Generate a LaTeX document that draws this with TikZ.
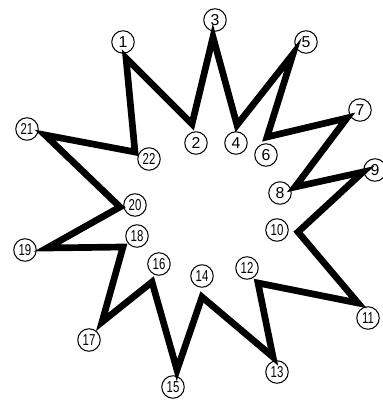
\documentclass[tikz,border=0pt]{standalone}
\usepackage{fontspec}
\setsansfont{Liberation Sans}
\usepackage{tikz}
\usetikzlibrary{positioning}

\newcommand{\narrow}[1]{\scalebox{0.72}[1]{#1}}

\begin{document}
\begin{tikzpicture}[
x=0.02cm, y=-0.02cm,
font=\sffamily\small,
num/.style={draw, circle, line width=0.6pt, inner sep=0pt, minimum size=0.45cm},
outline/.style={line width=3.8pt, line join=miter}
]
\useasboundingbox (0,0) rectangle (382,401);

% Corners of the star
\coordinate (v1) at (126,58);
\coordinate (v2) at (192,124);
\coordinate (v3) at (213,37);
\coordinate (v4) at (237,125);
\coordinate (v5) at (293,54);
\coordinate (v6) at (267,137);
\coordinate (v7) at (347,118);
\coordinate (v8) at (295,187);
\coordinate (v9) at (363,172);
\coordinate (v10) at (298,232);
\coordinate (v11) at (358,303);
\coordinate (v12) at (258,283);
\coordinate (v13) at (273,357);
\coordinate (v14) at (202,297);
\coordinate (v15) at (177,370);
\coordinate (v16) at (152,282);
\coordinate (v17) at (102,322);
\coordinate (v18) at (123,247);
\coordinate (v19) at (47,248);
\coordinate (v20) at (120,207);
\coordinate (v21) at (45,135);
\coordinate (v22) at (135,152);

% Outline
\draw[outline] (v1) -- (v2) -- (v3) -- (v4) -- (v5) -- (v6) -- (v7) -- (v8)
  -- (v9) -- (v10) -- (v11) -- (v12) -- (v13) -- (v14) -- (v15) -- (v16)
  -- (v17) -- (v18) -- (v19) -- (v20) -- (v21) -- (v22) -- cycle;

% Numbered circles
\node[num] (n1) at (123,42) {1};
\node[num] (n2) at (196,143) {2};
\node[num] (n3) at (215,20) {3};
\node[num] (n4) at (236,143) {4};
\node[num] (n5) at (306,42) {5};
\node[num] (n6) at (266,155) {6};
\node[num] (n7) at (360,110) {7};
\node[num] (n8) at (280,193) {8};
\node[num] (n9) at (375,170) {9};
\node[num] (n10) at (277,230) {\narrow{10}};
\node[num] (n11) at (368,318) {\narrow{11}};
\node[num] (n12) at (247,268) {\narrow{12}};
\node[num] (n13) at (277,372) {\narrow{13}};
\node[num] (n14) at (202,276) {\narrow{14}};
\node[num] (n15) at (173,387) {\narrow{15}};
\node[num] (n16) at (159,264) {\narrow{16}};
\node[num] (n17) at (89,340) {\narrow{17}};
\node[num] (n18) at (137,236) {\narrow{18}};
\node[num] (n19) at (25,250) {\narrow{19}};
\node[num] (n20) at (135,205) {\narrow{20}};
\node[num] (n21) at (27,129) {\narrow{21}};
\node[num] (n22) at (149,159) {\narrow{22}};

\end{tikzpicture}
\end{document}
